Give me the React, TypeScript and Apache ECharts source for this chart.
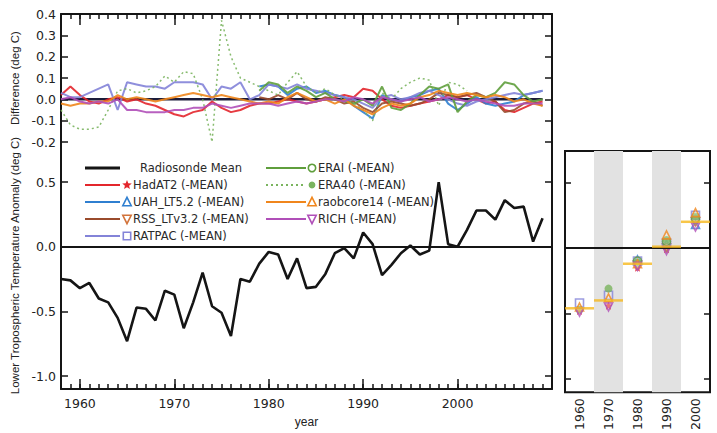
import React, { useEffect, useRef } from "react";
import * as echarts from "echarts";

const years = [
  1958, 1959, 1960, 1961, 1962, 1963, 1964, 1965, 1966, 1967, 1968, 1969, 1970,
  1971, 1972, 1973, 1974, 1975, 1976, 1977, 1978, 1979, 1980, 1981, 1982, 1983,
  1984, 1985, 1986, 1987, 1988, 1989, 1990, 1991, 1992, 1993, 1994, 1995, 1996,
  1997, 1998, 1999, 2000, 2001, 2002, 2003, 2004, 2005, 2006, 2007, 2008, 2009,
];

const radiosondeMean = [
  -0.25, -0.26, -0.32, -0.28, -0.4, -0.43, -0.55, -0.73, -0.47, -0.48, -0.57, -0.34, -0.37,
  -0.63, -0.43, -0.2, -0.46, -0.51, -0.69, -0.25, -0.27, -0.13, -0.04, -0.06, -0.25, -0.09,
  -0.32, -0.31, -0.21, -0.05, -0.01, -0.09, 0.11, 0.02, -0.22, -0.14, -0.05, 0.01, -0.06,
  -0.03, 0.5, 0.02, 0.0, 0.13, 0.28, 0.28, 0.21, 0.36, 0.3, 0.31, 0.04, 0.22,
];

const meanZero = [
  0, 0, 0, 0, 0, 0, 0, 0, 0, 0, 0, 0, 0, 0, 0, 0, 0, 0, 0, 0, 0, 0, 0, 0, 0, 0,
  0, 0, 0, 0, 0, 0, 0, 0, 0, 0, 0, 0, 0, 0, 0, 0, 0, 0, 0, 0, 0, 0, 0, 0, 0, 0,
];

const hadat2Diff = [
  0.02, 0.06, 0.02, -0.01, -0.02, 0.0, 0.01, -0.01, 0.0, -0.02, -0.03, -0.05, -0.07,
  -0.08, -0.06, -0.05, -0.01, -0.04, -0.06, -0.05, -0.03, -0.02, -0.02, -0.01, 0.0, -0.01,
  -0.02, -0.01, 0.0, 0.01, 0.02, 0.01, 0.05, 0.04, 0.0, -0.03, -0.04, -0.03, -0.02,
  -0.01, 0.0, 0.02, 0.01, 0.02, 0.0, -0.02, -0.01, -0.05, -0.06, -0.04, -0.02, -0.01,
];

const uahDiff = [
  null, null, null, null, null, null, null, null, null, null, null, null, null,
  null, null, null, null, null, null, null, null, 0.06, 0.07, 0.06, 0.02, 0.05,
  0.06, 0.03, 0.04, 0.02, 0.01, -0.03, -0.06, -0.09, 0.02, 0.0, -0.01, 0.01, 0.02,
  0.04, 0.05, -0.02, -0.05, -0.02, 0.01, -0.02, -0.03, -0.02, -0.01, 0.02, 0.03, 0.04,
];

const rssDiff = [
  null, null, null, null, null, null, null, null, null, null, null, null, null,
  null, null, null, null, null, null, null, null, 0.01, 0.0, 0.02, 0.0, 0.03,
  0.0, -0.01, 0.01, 0.0, -0.02, -0.01, -0.04, -0.06, -0.02, -0.01, -0.02, -0.03, -0.02,
  0.0, 0.03, 0.02, 0.01, 0.02, 0.03, 0.01, -0.01, -0.06, -0.05, -0.02, -0.01, -0.03,
];

const ratpacDiff = [
  0.03, 0.01, 0.01, 0.03, 0.05, 0.07, -0.05, 0.08, 0.07, 0.06, 0.06, 0.05, 0.08,
  0.08, 0.08, 0.07, 0.0, 0.06, 0.05, 0.08, 0.0, 0.02, 0.07, 0.06, 0.05, 0.07,
  0.05, 0.04, 0.03, 0.02, 0.01, 0.0, -0.02, -0.04, 0.01, 0.02, 0.0, 0.01, 0.03,
  0.04, 0.02, 0.0, -0.02, -0.03, -0.01, 0.0, 0.01, 0.02, 0.03, 0.02, 0.03, 0.04,
];

const eraiDiff = [
  null, null, null, null, null, null, null, null, null, null, null, null, null,
  null, null, null, null, null, null, null, null, 0.04, 0.08, 0.07, 0.03, 0.06,
  0.04, 0.01, 0.03, 0.0, -0.01, -0.02, 0.0, -0.03, 0.06, -0.04, -0.05, -0.02, 0.02,
  0.06, 0.05, 0.07, -0.06, -0.01, 0.02, 0.01, 0.03, 0.08, 0.07, 0.02, -0.01, 0.0,
];

const era40Diff = [
  -0.05, -0.12, -0.14, -0.14, -0.13, -0.05, 0.04, 0.05, 0.03, 0.04, 0.06, 0.11, 0.08,
  0.13, 0.12, 0.0, -0.2, 0.37, 0.2, 0.1, 0.08, 0.06, 0.04, 0.02, 0.08, 0.13,
  0.06, 0.03, 0.05, 0.02, 0.0, -0.02, -0.05, -0.1, 0.03, 0.0, 0.05, 0.08, 0.1,
  0.09, -0.03, 0.08, 0.07, 0.04, null, null, null, null, null, null, null, null,
];

const raobcoreDiff = [
  -0.02, -0.03, -0.02, -0.02, -0.01, -0.01, 0.02, 0.0, 0.01, 0.0, -0.01, 0.0, 0.01,
  0.02, 0.03, 0.02, 0.01, 0.02, 0.01, 0.0, -0.01, -0.02, -0.01, -0.02, 0.01, 0.03,
  0.01, -0.01, 0.0, -0.02, 0.0, -0.03, -0.05, -0.07, -0.04, -0.02, -0.03, -0.02, 0.01,
  0.02, 0.04, 0.03, 0.02, 0.03, 0.02, 0.01, 0.02, 0.01, -0.01, 0.0, -0.02, -0.03,
];

const richDiff = [
  0.0, 0.01, -0.01, -0.02, -0.01, -0.02, 0.0, -0.05, -0.05, -0.06, -0.06, -0.06, -0.05,
  -0.05, -0.04, -0.04, -0.02, -0.03, -0.04, -0.03, -0.02, -0.02, -0.02, -0.03, -0.02, -0.01,
  -0.02, -0.01, 0.0, 0.0, -0.01, 0.01, 0.0, -0.02, 0.01, 0.0, -0.01, 0.0, 0.01,
  -0.01, 0.0, 0.01, 0.0, -0.01, 0.0, -0.01, -0.02, -0.03, -0.03, -0.02, -0.02, -0.02,
];

// decadal panel
const decades = ["1960", "1970", "1980", "1990", "2000"];
const shadedDecades = ["1970", "1990"];
const decadalMean = [-0.46, -0.4, -0.12, 0.01, 0.2];
const hadat2Dec = [-0.48, -0.44, -0.15, -0.01, 0.19];
const uahDec = [null, null, -0.09, 0.03, 0.18];
const rssDec = [null, null, -0.13, 0.0, 0.2];
const ratpacDec = [-0.42, -0.36, -0.1, 0.04, 0.25];
const eraiDec = [null, null, -0.1, 0.05, 0.22];
const era40Dec = [-0.47, -0.31, -0.11, 0.06, 0.24];
const raobcoreDec = [-0.45, -0.38, -0.12, 0.1, 0.27];
const richDec = [-0.49, -0.45, -0.14, -0.02, 0.16];

// ticks
const majorYears = [1960, 1970, 1980, 1990, 2000, 2010];
const yearLabels = [1960, 1970, 1980, 1990, 2000];
const anomalyTicks = [-1.0, -0.5, 0.0, 0.5];
const rightPanelTicks = [-1.0, -0.5, 0.5];

const FONT = "Liberation Sans, Arial, sans-serif";
const TICKFONT = "DejaVu Sans, sans-serif";
const INK = "#151515";

const STAR = "path://M0,-10 L2.9,-4 L9.5,-3.1 L4.7,1.5 L5.9,8.1 L0,5 L-5.9,8.1 L-4.7,1.5 L-9.5,-3.1 L-2.9,-4 Z";

type DS = {
  name: string;
  color: string;
  diff: (number | null)[];
  dec: (number | null)[];
  marker: string;
  filled: boolean;
  dotted?: boolean;
};

const datasets: DS[] = [
  { name: "HadAT2 (-MEAN)", color: "#e3262c", diff: hadat2Diff, dec: hadat2Dec, marker: "star", filled: true },
  { name: "UAH_LT5.2 (-MEAN)", color: "#2f7fd0", diff: uahDiff, dec: uahDec, marker: "triangle", filled: false },
  { name: "RSS_LTv3.2 (-MEAN)", color: "#9a4b2c", diff: rssDiff, dec: rssDec, marker: "itriangle", filled: false },
  { name: "RATPAC (-MEAN)", color: "#8383d8", diff: ratpacDiff, dec: ratpacDec, marker: "square", filled: false },
  { name: "ERAI (-MEAN)", color: "#5f9e3c", diff: eraiDiff, dec: eraiDec, marker: "circle", filled: false },
  { name: "ERA40 (-MEAN)", color: "#7ab45e", diff: era40Diff, dec: era40Dec, marker: "dot", filled: true, dotted: true },
  { name: "raobcore14 (-MEAN)", color: "#f0861c", diff: raobcoreDiff, dec: raobcoreDec, marker: "triangle", filled: false },
  { name: "RICH (-MEAN)", color: "#b04fb8", diff: richDiff, dec: richDec, marker: "itriangle", filled: false },
];

const legendMarkerColor: Record<string, string> = {
  "RSS_LTv3.2 (-MEAN)": "#d2733a",
};

function markerGraphic(kind: string, cx: number, cy: number, color: string) {
  const s = 4.2;
  const stroke = { stroke: color, lineWidth: 1.6, fill: "#fff" };
  if (kind === "star") {
    const pts: number[][] = [];
    for (let k = 0; k < 10; k++) {
      const r = k % 2 === 0 ? 5 : 2.2;
      const a = -Math.PI / 2 + (k * Math.PI) / 5;
      pts.push([cx + r * Math.cos(a), cy + r * Math.sin(a)]);
    }
    return { type: "polygon", shape: { points: pts }, style: { fill: color } };
  }
  if (kind === "triangle")
    return { type: "polygon", shape: { points: [[cx, cy - s - 0.5], [cx + s, cy + s - 0.5], [cx - s, cy + s - 0.5]] }, style: stroke };
  if (kind === "itriangle")
    return { type: "polygon", shape: { points: [[cx, cy + s + 0.5], [cx + s, cy - s + 0.5], [cx - s, cy - s + 0.5]] }, style: stroke };
  if (kind === "square")
    return { type: "rect", shape: { x: cx - s + 0.5, y: cy - s + 0.5, width: 2 * s - 1, height: 2 * s - 1 }, style: stroke };
  if (kind === "circle") return { type: "circle", shape: { cx, cy, r: s - 0.5 }, style: stroke };
  return { type: "circle", shape: { cx, cy, r: s - 0.8 }, style: { fill: color } };
}

function buildLegend() {
  const els: any[] = [];
  const col1 = { x1: 85, x2: 120, mx: 127, tx: 133 };
  const col2 = { x1: 266, x2: 306, mx: 312, tx: 318 };
  const rows1 = [168, 185, 202, 219, 236];
  const rows2 = [168, 185, 202, 219];
  const textStyle = (x: number, y: number, t: string) => ({
    type: "text",
    x,
    y,
    style: { text: t, fill: "#2a2a2a", font: `11.5px ${TICKFONT}`, verticalAlign: "middle", align: "left" },
  });
  els.push({ type: "line", shape: { x1: col1.x1, y1: rows1[0], x2: col1.x2, y2: rows1[0] }, style: { stroke: INK, lineWidth: 3 } });
  els.push(textStyle(140, rows1[0], "Radiosonde Mean"));
  const col1Sets = datasets.slice(0, 4);
  const col2Sets = datasets.slice(4);
  const addRow = (d: DS, c: typeof col1, y: number) => {
    els.push({
      type: "line",
      shape: { x1: c.x1, y1: y, x2: c.x2, y2: y },
      style: { stroke: d.color, lineWidth: 2, lineDash: d.dotted ? [2, 3] : null },
    });
    els.push(markerGraphic(d.marker, c.mx, y, legendMarkerColor[d.name] || d.color));
    els.push(textStyle(c.tx, y, d.name));
  };
  col1Sets.forEach((d, i) => addRow(d, col1, rows1[i + 1]));
  col2Sets.forEach((d, i) => addRow(d, col2, rows2[i]));
  return els;
}

function echartsSymbol(kind: string) {
  if (kind === "star") return { symbol: STAR, symbolRotate: 0 };
  if (kind === "triangle") return { symbol: "triangle", symbolRotate: 0 };
  if (kind === "itriangle") return { symbol: "triangle", symbolRotate: 180 };
  if (kind === "square") return { symbol: "rect", symbolRotate: 0 };
  return { symbol: "circle", symbolRotate: 0 };
}

export default function App() {
  const ref = useRef<HTMLDivElement>(null);
  useEffect(() => {
    if (!ref.current) return;
    const chart = echarts.init(ref.current, null, { renderer: "svg" });
    const minorYears: number[] = [];
    for (let y = 1958; y <= 2010; y++) minorYears.push(y);

    const axisLine = { show: true, onZero: false, lineStyle: { color: INK, width: 2 } };
    const noLine = { show: false, onZero: false };
    const tickStyle = { color: INK, width: 1.5 };
    const labelStyle = { color: "#222", fontSize: 12.5, fontFamily: TICKFONT };

    const xAxes: any[] = [
      {
        type: "value", gridIndex: 0, position: "top", min: 1958, max: 2010,
        axisLine, axisTick: { show: true, inside: true, length: 5, customValues: minorYears, lineStyle: tickStyle },
        axisLabel: { show: false }, splitLine: { show: false },
      },
      {
        type: "value", gridIndex: 0, position: "top", min: 1958, max: 2010,
        axisLine: noLine, axisTick: { show: true, inside: true, length: 11, customValues: majorYears, lineStyle: tickStyle },
        axisLabel: { show: false }, splitLine: { show: false },
      },
      {
        type: "value", gridIndex: 1, position: "bottom", min: 1958, max: 2010,
        axisLine, axisTick: { show: true, inside: true, length: 5, customValues: minorYears, lineStyle: tickStyle },
        axisLabel: { show: false }, splitLine: { show: false },
      },
      {
        type: "value", gridIndex: 1, position: "bottom", min: 1958, max: 2010,
        axisLine: noLine,
        axisTick: { show: true, inside: true, length: 10, customValues: majorYears, lineStyle: tickStyle },
        axisLabel: { ...labelStyle, margin: 8, customValues: yearLabels, formatter: (v: number) => String(v) },
        splitLine: { show: false },
        name: "year", nameLocation: "middle", nameGap: 27,
        nameTextStyle: { color: "#222", fontSize: 12, fontFamily: FONT },
      },
      {
        type: "category", gridIndex: 2, data: decades, boundaryGap: true,
        axisLine: noLine, axisTick: { show: false },
        axisLabel: { ...labelStyle, rotate: 90, margin: 6 },
        splitLine: { show: false },
      },
    ];

    const yAxes: any[] = [
      {
        type: "value", gridIndex: 0, position: "left", min: -0.2, max: 0.4, interval: 0.1,
        axisLine, axisTick: { show: true, inside: true, length: 7, lineStyle: tickStyle },
        axisLabel: { ...labelStyle, margin: 5, formatter: (v: number) => v.toFixed(1) },
        splitLine: { show: false },
        name: "Difference (deg C)", nameLocation: "middle", nameGap: 33,
        nameTextStyle: { color: "#222", fontSize: 11.5, fontFamily: FONT },
      },
      {
        type: "value", gridIndex: 0, position: "right", min: -0.2, max: 0.4, interval: 0.1,
        axisLine, axisTick: { show: true, inside: true, length: 7, lineStyle: tickStyle },
        axisLabel: { show: false }, splitLine: { show: false },
      },
      {
        type: "value", gridIndex: 1, position: "left", min: -1.1, max: 0.81,
        axisLine, axisTick: { show: true, inside: true, length: 7, customValues: anomalyTicks, lineStyle: tickStyle },
        axisLabel: { ...labelStyle, margin: 5, customValues: anomalyTicks, formatter: (v: number) => v.toFixed(1) },
        splitLine: { show: false },
        name: "Lower Tropospheric Temperature Anomaly (deg C)", nameLocation: "middle", nameGap: 37,
        nameTextStyle: { color: "#222", fontSize: 11.5, fontFamily: FONT },
      },
      {
        type: "value", gridIndex: 1, position: "right", min: -1.1, max: 0.81,
        axisLine, axisTick: { show: true, inside: true, length: 7, customValues: rightPanelTicks, lineStyle: tickStyle },
        axisLabel: { show: false }, splitLine: { show: false },
      },
      {
        type: "value", gridIndex: 2, position: "left", min: -1.1, max: 0.74,
        axisLine: noLine, axisTick: { show: true, inside: true, length: 6, customValues: rightPanelTicks, lineStyle: tickStyle },
        axisLabel: { show: false }, splitLine: { show: false },
      },
      {
        type: "value", gridIndex: 2, position: "right", min: -1.1, max: 0.74,
        axisLine: noLine, axisTick: { show: true, inside: true, length: 6, customValues: rightPanelTicks, lineStyle: tickStyle },
        axisLabel: { show: false }, splitLine: { show: false },
      },
    ];

    const pairs = (arr: (number | null)[]) => years.map((y, i) => [y, arr[i]]);

    const series: any[] = [];
    series.push({
      type: "line", name: "Radiosonde Mean (diff)", xAxisIndex: 0, yAxisIndex: 0,
      data: pairs(meanZero), showSymbol: false, lineStyle: { color: "#1c1c3a", width: 2.5 }, z: 2,
    });
    datasets.forEach((d) => {
      series.push({
        type: "line", name: d.name, xAxisIndex: 0, yAxisIndex: 0,
        data: pairs(d.diff), showSymbol: false, connectNulls: false,
        lineStyle: { color: d.color, width: d.dotted ? 1.5 : 2, type: d.dotted ? [2, 3] : "solid", opacity: 0.9 },
        z: 3,
      });
    });
    series.push({
      type: "line", name: "Radiosonde Mean", xAxisIndex: 2, yAxisIndex: 2,
      data: pairs(radiosondeMean), showSymbol: false,
      lineStyle: { color: INK, width: 2.6 }, z: 4,
      markLine: {
        silent: true, symbol: "none", label: { show: false },
        lineStyle: { color: INK, width: 2, type: "solid" },
        data: [{ yAxis: 0 }],
      },
    });
    series.push({
      type: "custom", name: "shade", xAxisIndex: 4, yAxisIndex: 4, silent: true, z: 0,
      data: shadedDecades.map((d) => [d, 0]),
      renderItem: (params: any, api: any) => {
        const p = api.coord([api.value(0), 0]);
        const w = api.size([1, 0])[0];
        const cs = params.coordSys;
        return {
          type: "rect",
          shape: { x: p[0] - w / 2, y: cs.y, width: w, height: cs.height },
          style: { fill: "#e2e2e2" },
        };
      },
    });
    datasets.forEach((d) => {
      const sym = echartsSymbol(d.marker);
      series.push({
        type: "scatter", name: d.name + " decadal", xAxisIndex: 4, yAxisIndex: 4,
        data: decades.map((c, i) => [c, d.dec[i]]).filter((p) => p[1] !== null),
        symbol: sym.symbol, symbolRotate: sym.symbolRotate, symbolSize: 8,
        itemStyle: d.filled
          ? { color: d.color, opacity: 0.8 }
          : { color: "rgba(255,255,255,0.3)", borderColor: d.color, borderWidth: 1.6, opacity: 0.8 },
        z: 3,
      });
    });
    series.push({
      type: "scatter", name: "Decadal mean", xAxisIndex: 4, yAxisIndex: 4,
      data: decades.map((c, i) => [c, decadalMean[i]]),
      symbol: "rect", symbolSize: [29, 2.5],
      itemStyle: { color: "#f6b81c" }, z: 5,
      markLine: {
        silent: true, symbol: "none", label: { show: false },
        lineStyle: { color: INK, width: 2, type: "solid" },
        data: [{ yAxis: 0 }],
      },
    });

    chart.setOption({
      animation: false,
      backgroundColor: "#fff",
      textStyle: { fontFamily: FONT },
      grid: [
        { left: 61, top: 14, width: 491, height: 128, show: false },
        { left: 61, top: 142, width: 491, height: 256, show: false },
        { left: 565, top: 151, width: 145, height: 247, show: true, borderColor: INK, borderWidth: 2, backgroundColor: "transparent" },
      ],
      xAxis: xAxes,
      yAxis: yAxes,
      series,
      graphic: buildLegend(),
    });
    return () => chart.dispose();
  }, []);
  return <div ref={ref} style={{ width: 717, height: 433, position: "absolute", left: 0, top: 0 }} />;
}
